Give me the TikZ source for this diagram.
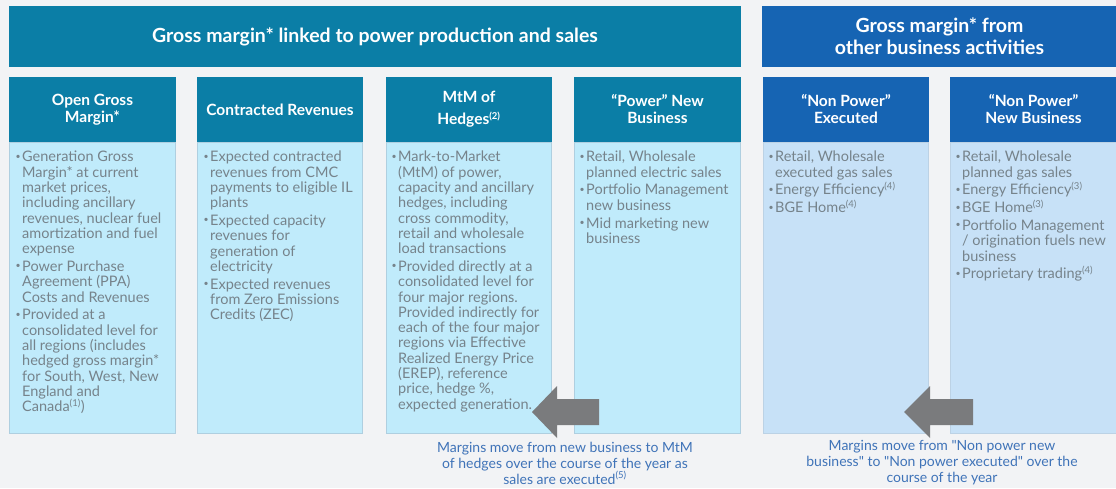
\documentclass[tikz,border=0pt]{standalone}
\usepackage{fontspec}
\setmainfont{Lato}
\newfontfamily\capfont{Lato}
\definecolor{bgc}{HTML}{F2F3F5}
\definecolor{tealc}{HTML}{0B7EA6}
\definecolor{bluec}{HTML}{1664B3}
\definecolor{cyanbody}{HTML}{C0EBFB}
\definecolor{bluebody}{HTML}{C7E1F7}
\definecolor{bodyedge}{HTML}{AFCFE0}
\definecolor{bodytext}{HTML}{76838B}
\definecolor{captext}{HTML}{3F73B8}
\definecolor{arrowc}{HTML}{7A7B7D}
\newcommand\bul{\leavevmode\llap{\raisebox{0.18em}{\scalebox{0.6}{•}}\kern1.5pt}}
\newcommand\sups[1]{\textsuperscript{\fontsize{9.5}{9.5}\selectfont #1}}
\tikzset{
  banner/.style={rectangle, inner sep=0pt, text=white, align=center,
    font=\fontsize{19.5}{22}\selectfont\bfseries},
  hdr/.style={rectangle, inner sep=0pt, text=white, align=center,
    minimum height=65pt, font=\fontsize{15.5}{17}\selectfont\bfseries},
  body/.style={rectangle, draw=bodyedge, line width=1pt, inner sep=0pt,
    minimum height=291pt},
  btxt/.style={anchor=north west, inner sep=0pt, align=left, text=bodytext,
    font=\fontsize{14.5}{15.3}\selectfont},
  captxt/.style={inner sep=0pt, align=center, text=captext,
    font=\capfont\fontsize{14}{16}\selectfont},
  blockarrow/.style={fill=arrowc, draw=none}
}
\begin{document}
\begin{tikzpicture}[x=1pt,y=-1pt]
\useasboundingbox (0,0) rectangle (1116,488);
\fill[bgc] (0,0) rectangle (1116,488);

% banners
\node[banner, fill=tealc, minimum width=732pt, minimum height=61pt] (ban1) at (375,36.5)
  {Gross margin* linked to power production and sales};
\node[banner, fill=bluec, minimum width=355pt, minimum height=61pt] (ban2) at (939.5,36.5)
  {Gross margin* from\\other business activities};

% headers
\node[hdr, fill=tealc, minimum width=167pt] (h1) at (92.5,109.5) {Open Gross\\Margin*};
\node[hdr, fill=tealc, minimum width=166pt] (h2) at (280,109.5) {Contracted Revenues};
\node[hdr, fill=tealc, minimum width=166pt, font=\fontsize{15.5}{22}\selectfont\bfseries] (h3) at (469,109.5) {MtM of\\Hedges\sups{(2)}};
\node[hdr, fill=tealc, minimum width=167pt] (h4) at (657.5,109.5) {“Power” New\\Business};
\node[hdr, fill=bluec, minimum width=166pt] (h5) at (846,109.5) {“Non Power”\\Executed};
\node[hdr, fill=bluec, minimum width=167pt] (h6) at (1033.5,109.5) {“Non Power”\\New Business};

% bodies
\node[body, fill=cyanbody, minimum width=166pt] (b1) at (92.5,287.5) {};
\node[body, fill=cyanbody, minimum width=165pt] (b2) at (280,287.5) {};
\node[body, fill=cyanbody, minimum width=165pt] (b3) at (469,287.5) {};
\node[body, fill=cyanbody, minimum width=166pt] (b4) at (657.5,287.5) {};
\node[body, fill=bluebody, minimum width=165pt, draw=bluebody!85!gray] (b5) at (846,287.5) {};
\node[body, fill=bluebody, minimum width=166pt, draw=bluebody!85!gray] (b6) at (1033.5,287.5) {};

% body texts
\node[btxt] (t1) at (22,151) {\bul Generation Gross\\
Margin* at current\\
market prices,\\
including ancillary\\
revenues, nuclear fuel\\
amortization and fuel\\
expense\\[2.5pt]
\bul Power Purchase\\
Agreement (PPA)\\
Costs and Revenues\\[2.5pt]
\bul Provided at a\\
consolidated level for\\
all regions (includes\\
hedged gross margin*\\
for South, West, New\\
England and\\
Canada\sups{(1)})};

\node[btxt] (t2) at (210,151) {\bul Expected contracted\\
revenues from CMC\\
payments to eligible IL\\
plants\\[2.5pt]
\bul Expected capacity\\
revenues for\\
generation of\\
electricity\\[2.5pt]
\bul Expected revenues\\
from Zero Emissions\\
Credits (ZEC)};

\node[btxt] (t3) at (398,151) {\bul Mark-to-Market\\
(MtM) of power,\\
capacity and ancillary\\
hedges, including\\
cross commodity,\\
retail and wholesale\\
load transactions\\[2.5pt]
\bul Provided directly at a\\
consolidated level for\\
four major regions.\\
Provided indirectly for\\
each of the four major\\
regions via Effective\\
Realized Energy Price\\
(EREP), reference\\
price, hedge \%,\\
expected generation.};

\node[btxt] (t4) at (586,151) {\bul Retail, Wholesale\\
planned electric sales\\[2.5pt]
\bul Portfolio Management\\
new business\\[2.5pt]
\bul Mid marketing new\\
business};

\node[btxt] (t5) at (775,151) {\bul Retail, Wholesale\\
executed gas sales\\[2.5pt]
\bul Energy Efficiency\sups{(4)}\\[2.5pt]
\bul BGE Home\sups{(4)}};

\node[btxt] (t6) at (962,151) {\bul Retail, Wholesale\\
planned gas sales\\[2.5pt]
\bul Energy Efficiency\sups{(3)}\\[2.5pt]
\bul BGE Home\sups{(3)}\\[2.5pt]
\bul Portfolio Management\\
/ origination fuels new\\
business\\[2.5pt]
\bul Proprietary trading\sups{(4)}};

% block arrows
\coordinate (a1tip) at (532,412);
\fill[blockarrow] (a1tip) -- (557,386) -- (557,399) -- (599,399) -- (599,425) -- (557,425) -- (557,438) -- cycle;
\coordinate (a2tip) at (904,412);
\fill[blockarrow] (a2tip) -- (930,386) -- (930,399) -- (973,399) -- (973,425) -- (930,425) -- (930,438) -- cycle;

% captions
\node[captxt] (c1) at (565,463) {Margins move from new business to MtM\\
of hedges over the course of the year as\\
sales are executed\sups{(5)}};
\node[captxt] (c2) at (942,463) {Margins move from "Non power new\\
business" to "Non power executed" over the\\
course of the year};
\end{tikzpicture}
\end{document}
